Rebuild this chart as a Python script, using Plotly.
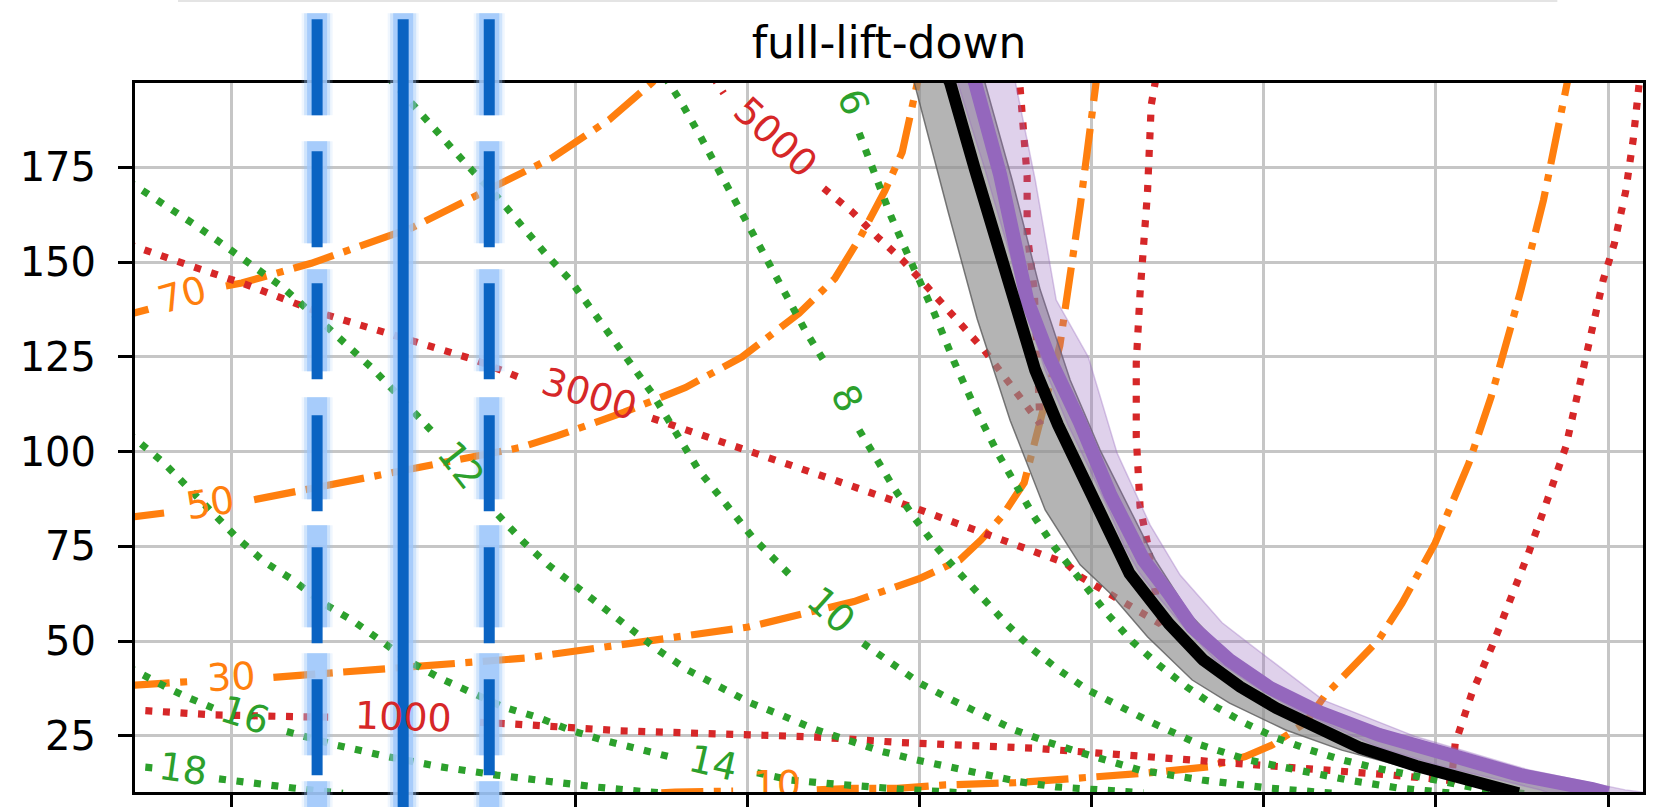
import plotly.graph_objects as go

ORANGE = "#ff7f0e"
RED = "#d62728"
GREEN = "#2ca02c"
PURPLE = "#9467bd"
FONT = "DejaVu Sans"

X_TICKS = [1, 2, 3, 4, 5, 6, 7, 8, 9]
Y_TICKS = [25, 50, 75, 100, 125, 150, 175]
X_RANGE = [0.442, 9.203]
Y_RANGE = [10.14, 197.3]

# ---- orange dash-dot contours (10, 30, 50, 70) ----
o70_x = [0.40, 0.52, None, 0.97, 1.062, 1.466, 2.047, 2.867, 3.199, 3.449, 3.47]
o70_y = [136.1, 137.6, None, 143.7, 144.5, 149.7, 159.0, 177.6, 187.7, 197.5, 199.0]
o50_x = [0.40, 0.611, None, 1.134, 1.736, 2.682, 2.898, 3.284, 3.640, 3.969, 4.300, 4.508, 4.658, 4.798,
         4.899, 4.985, 5.0]
o50_y = [82.6, 83.8, None, 87.3, 92.7, 101.1, 104.2, 110.4, 116.9, 125.0, 136.5, 145.7, 156.8, 168.8,
         179.0, 198.0, 200.0]
o30_x = [0.40, 0.762, None, 1.246, 2.711, 4.005, 4.619, 5.006, 5.234, 5.358, 5.48, 5.608, 5.691, 5.815,
         5.933, 6.020, 6.03]
o30_y = [38.2, 39.3, None, 40.4, 45.5, 53.7, 60.4, 66.6, 71.4, 76.7, 83.0, 91.8, 105.9, 128.0,
         164.7, 196.8, 199.0]
o10_x = [3.50, 3.580, 3.917, None, 4.403, 4.614, 4.870, 5.149, 5.556, 5.933, 6.311, 6.677, 6.892, 7.047,
         7.241, 7.357, 7.551, 7.667, 7.803, 7.995, 8.191, 8.321, 8.430, 8.494, 8.625, 8.712, 8.755, 8.77]
o10_y = [9.9, 10.14, 10.4, None, 10.7, 11.1, 11.1, 12.0, 12.6, 13.8, 15.1, 16.8, 19.5, 22.5,
         28.4, 35.7, 45.0, 50.3, 60.0, 75.8, 96.9, 114.5, 132.1, 142.7, 166.4, 185.8, 196.3, 199.0]

# ---- red dotted contours (1000, 3000, 5000) ----
r1000_x = [0.40, 0.895, 1.401, 1.604, None, 2.447, 2.639, 3.260, 3.882, 4.382, 4.887, 5.393, 5.660,
           6.311, 6.933, 7.339, 7.746, 8.054, 8.09, 8.112, 8.209, 8.325, 8.402, 8.538, 8.647, 8.755,
           8.863, 8.972, 9.037, 9.102, 9.146, 9.178, 9.185]
r1000_y = [31.9, 30.5, 30.0, 29.9, None, 28.5, 28.1, 26.3, 25.4, 24.7, 23.2, 22.1, 21.7,
           19.5, 17.5, 15.9, 14.6, 13.3, 13.2, 23.0, 36.2, 48.5, 57.3, 73.2, 87.2, 101.3,
           123.3, 145.3, 155.0, 168.6, 182.3, 195.9, 199.0]
r3000_x = [0.40, 0.467, 0.779, 1.069, 1.525, 1.941, 2.418, 2.687, None, 3.446, 4.027, 4.504, 5.004,
           5.375, 5.852, 5.933, 6.40, 6.324, 6.281, 6.259, 6.259, 6.281, 6.324, 6.346, 6.367, 6.375]
r3000_y = [154.8, 153.7, 148.8, 144.4, 136.5, 130.8, 124.2, 119.4, None, 108.8, 100.0, 92.5, 84.6,
           78.4, 70.5, 67.0, 54.5, 75.8, 85.5, 103.9, 123.4, 141.8, 168.2, 191.5, 196.3, 199.0]
r5000_x = [3.80, 3.862, None, 4.443, 4.608, 4.754, 4.899, 5.044, 5.375, 5.625, 5.70,
           5.666, 5.625, 5.625, 5.605, 5.585, 5.579]
r5000_y = [199.0, 194.6, None, 169.5, 163.3, 156.7, 150.6, 143.5, 126.8, 111.9, 107.3,
           142.7, 157.6, 172.6, 182.3, 196.3, 199.0]

# ---- green dotted contours (6 ... 18) ----
g6_x = [4.649, 4.754, 4.835, 4.963, 5.085, 5.201, 5.323, 5.460, 5.561, 5.666, 5.782, 5.844, 5.977, 6.096,
        6.237, 6.389, 6.552, 6.718, 6.892, 7.078, 7.270, 7.456, 7.648, 7.839, 8.037, 8.229, 8.432, 8.55]
g6_y = [184.1, 170.9, 162.0, 148.8, 136.6, 123.7, 111.5, 99.1, 90.7, 82.8, 74.9, 71.4, 63.9, 56.9,
        49.8, 43.7, 37.9, 32.7, 28.3, 24.3, 21.2, 18.6, 16.5, 14.6, 12.8, 11.2, 10.1, 9.5]
g8_x = [3.52, 3.613, 3.717, 3.810, 3.914, 4.008, 4.111, 4.205, 4.339, 4.454, None, 4.649, 4.754, 4.858,
        4.972, 5.096, 5.232, 5.375, 5.512, 5.657, 5.811, 5.977, 6.352, 6.630, 6.909, 7.200, 7.490, 7.781,
        8.025, 8.1]
g8_y = [199.0, 192.4, 184.0, 176.1, 167.7, 159.8, 151.5, 143.5, 131.7, 123.3, None, 105.7, 97.3, 89.9,
        82.4, 74.9, 67.9, 60.8, 54.2, 47.8, 42.3, 37.1, 28.4, 22.6, 18.6, 15.9, 13.3, 11.2,
        10.1, 9.8]
g10_x = [1.91, 2.148, 2.354, 2.563, 2.833, 2.970, 3.156, 3.446, 3.717, 4.027, 4.256, None, 4.672, 4.837,
         5.004, 5.189, 5.375, 5.553, 5.740, 5.916, 6.282, 6.642, 7.026, 7.270, 7.4]
g10_y = [199.0, 186.7, 176.5, 166.4, 151.9, 145.3, 133.9, 115.4, 95.1, 77.5, 67.0, None, 49.4, 43.9,
         38.8, 34.4, 30.2, 26.5, 23.4, 20.8, 15.9, 13.3, 11.2, 10.1, 9.8]
g12_x = [0.40, 0.633, 0.799, 0.965, 1.131, 1.296, 1.525, 1.680, 1.825, 1.970, 2.106, 2.168, None,
         2.551, 2.697, 2.842, 2.999, 3.167, 3.322, 3.487, 3.655, 3.830, 4.016, 4.205, 4.391, 4.578,
         4.786, 4.983, 5.189, 5.387, 5.585, 5.792, 5.991, 6.224, 6.3]
g12_y = [171.5, 164.7, 159.6, 154.3, 148.8, 143.5, 134.3, 128.1, 121.8, 114.9, 108.3, 105.3, None,
         83.3, 76.2, 70.1, 64.5, 58.9, 53.1, 47.4, 42.3, 37.9, 33.7, 30.3, 26.7, 23.9,
         20.8, 18.6, 16.7, 14.6, 12.8, 11.5, 10.7, 10.1, 9.9]
g14_x = [0.40, 0.608, 0.754, 0.893, 1.038, 1.193, 1.360, 1.523, 1.703, 1.866, 2.040, 2.214, 2.406, 2.580,
         2.778, 2.970, 3.162, 3.359, 3.551, None, 4.056, 4.254, 4.463, 4.672, 4.887, 5.178, 5.3]
g14_y = [105.0, 97.1, 90.3, 83.7, 77.1, 70.9, 66.1, 60.3, 55.5, 50.2, 44.5, 40.2, 36.3, 32.6,
         29.9, 26.5, 23.8, 21.8, 19.4, None, 15.2, 13.3, 12.4, 11.5, 10.9, 10.1, 9.8]
g16_x = [0.40, 0.452, 0.558, 0.646, 0.744, 0.895, None, 1.324, 1.614, 1.905, 2.214, 2.544, 2.825, 3.132, 3.435, 3.5]
g16_y = [43.2, 41.9, 39.2, 37.3, 35.2, 32.3, None, 26.1, 22.5, 19.5, 16.8, 14.6, 12.9, 11.4, 10.1, 9.9]
g18_x = [0.40, 0.452, 0.55, None, 0.930, 0.977, 1.070, 1.169, 1.267, 1.360, 1.459, 1.575, 1.65]
g18_y = [17.1, 16.8, 16.5, None, 13.6, 13.3, 12.8, 12.5, 11.7, 11.2, 10.7, 10.1, 9.8]

# ---- contour labels: text, x, y, angle ----
orange_labels = [("70", 0.715, 141.3, -16), ("50", 0.877, 86.4, -9), ("30", 1.0, 40.6, -3)]
red_labels = [("1000", 2.001, 30.0, 2), ("3000", 3.08, 115.2, 17), ("5000", 4.161, 183.0, 43)]
green_labels = [("6", 4.614, 192.2, 68), ("8", 4.578, 114.1, 63), ("10", 4.485, 58.2, 42),
                ("12", 2.335, 96.5, 52), ("14", 3.801, 17.8, 13), ("16", 1.081, 30.5, 18),
                ("18", 0.721, 16.2, 8)]
orange10_label = ("10", 4.171, 11.4)

# ---- measured curve (black) with band (grey) and second curve (purple) with band ----
black_x = [5.16, 5.178, 5.323, 5.468, 5.538, 5.672, 5.805, 5.933, 6.04, 6.13, 6.22, 6.32, 6.45, 6.648,
           6.863, 7.072, 7.299, 7.560, 7.886, 8.199, 8.432, 8.48]
black_y = [199.0, 197.3, 174.3, 151.9, 140.0, 121.5, 107.0, 95.1, 84.5, 75.0, 67.8, 62.0, 54.5, 45.0,
           37.9, 32.3, 27.3, 21.8, 17.0, 13.6, 10.7, 9.8]
purple_x = [5.31, 5.323, 5.468, 5.625, 5.759, 5.933, 6.108, 6.302, 6.456, 6.584, 6.799, 7.037, 7.316,
            7.671, 8.083, 8.490, 8.908, 9.0]
purple_y = [199.0, 197.3, 173.1, 140.0, 124.2, 107.6, 88.6, 71.4, 62.1, 53.7, 45.0, 37.6, 31.3,
            25.2, 19.9, 14.6, 10.9, 9.8]
grey_lo_x = [4.96, 5.166, 5.335, 5.526, 5.730, 5.933, 6.107, 6.324, 6.584, 6.801, 7.127, 7.453, 7.887, 8.321, 8.40]
grey_lo_y = [199.0, 163.3, 135.0, 108.3, 84.6, 70.1, 62.6, 51.1, 39.7, 33.6, 26.5, 21.2, 15.9, 10.7, 9.8]
grey_hi_x = [5.37, 5.538, 5.701, 5.875, 6.049, 6.224, 6.369, 6.573, 6.758, 6.973, 7.386, 7.909, 8.490, 8.838, 8.90]
grey_hi_y = [199.0, 171.7, 142.7, 118.9, 100.4, 84.6, 71.4, 56.9, 48.1, 40.5, 30.2, 21.2, 13.8, 10.7, 9.8]
lav_lo_x = [5.21, 5.381, 5.526, 5.596, 5.730, 5.863, 5.991, 6.10, 6.19, 6.28, 6.38, 6.52, 6.718, 6.950,
            7.165, 7.403, 7.676, 8.025, 8.345, 8.606, 8.66]
lav_lo_y = [199.0, 174.3, 151.9, 140.0, 121.5, 107.0, 95.1, 84.5, 75.0, 67.8, 62.0, 54.5, 45.0, 37.9,
            32.3, 27.3, 21.8, 17.0, 13.6, 10.7, 9.8]
lav_hi_x = [5.55, 5.672, 5.794, 5.980, 6.148, 6.340, 6.514, 6.758, 6.909, 7.345, 7.886, 8.536, 9.100, 9.25]
lav_hi_y = [199.0, 171.7, 140.0, 125.0, 99.6, 80.6, 67.4, 54.8, 49.5, 34.4, 24.7, 16.0, 10.7, 9.8]

# ---- vertical limit lines ----
limit_x = [1.5, 2.0, 2.5]
limit_dashed = [True, False, True]

DOT = "7px,10.6px"
DASHDOT = "42px,10.5px,7px,10.5px"
LW = 7.2

fig = go.Figure()


def add_line(x, y, color, dash, width=LW):
    fig.add_trace(go.Scatter(x=x, y=y, mode="lines", connectgaps=False, hoverinfo="skip",
                             showlegend=False, line=dict(color=color, width=width, dash=dash)))


for xs, ys in [(o70_x, o70_y), (o50_x, o50_y), (o30_x, o30_y), (o10_x, o10_y)]:
    add_line(xs, ys, ORANGE, DASHDOT)
for xs, ys in [(r1000_x, r1000_y), (r3000_x, r3000_y), (r5000_x, r5000_y)]:
    add_line(xs, ys, RED, DOT)
for xs, ys in [(g6_x, g6_y), (g8_x, g8_y), (g10_x, g10_y), (g12_x, g12_y),
               (g14_x, g14_y), (g16_x, g16_y), (g18_x, g18_y)]:
    add_line(xs, ys, GREEN, DOT)

# clipped orange label at bottom
fig.add_trace(go.Scatter(x=[orange10_label[1]], y=[orange10_label[2]], mode="text", text=[orange10_label[0]],
                         textfont=dict(color=ORANGE, size=38, family=FONT), cliponaxis=True,
                         hoverinfo="skip", showlegend=False))

# bands
fig.add_trace(go.Scatter(x=grey_lo_x + grey_hi_x[::-1], y=grey_lo_y + grey_hi_y[::-1], mode="lines",
                         fill="toself", fillcolor="rgba(140,140,140,0.65)",
                         line=dict(color="rgba(90,90,90,0.8)", width=1.5), hoverinfo="skip", showlegend=False))
fig.add_trace(go.Scatter(x=lav_lo_x + lav_hi_x[::-1], y=lav_lo_y + lav_hi_y[::-1], mode="lines",
                         fill="toself", fillcolor="rgba(148,103,189,0.3)",
                         line=dict(color="rgba(148,103,189,0.35)", width=1.5), hoverinfo="skip", showlegend=False))
add_line(purple_x, purple_y, PURPLE, "solid", width=14)
add_line(black_x, black_y, "black", "solid", width=12)

annotations = []
for labels, color in [(orange_labels, ORANGE), (red_labels, RED), (green_labels, GREEN)]:
    for txt, x, y, ang in labels:
        annotations.append(dict(x=x, y=y, xref="x", yref="y", text=txt, showarrow=False, textangle=ang,
                                xanchor="center", yanchor="middle",
                                font=dict(color=color, size=38, family=FONT)))

shapes = []
# faint line at the very top of the figure
shapes.append(dict(type="line", xref="paper", yref="paper", x0=0.0285, x1=0.9432, y0=1.1157, y1=1.1157,
                   line=dict(color="#e4e4e4", width=2), layer="above"))
for xv, dashed in zip(limit_x, limit_dashed):
    glow_dash = "102px,26px" if dashed else "solid"
    core_dash = "96px,36px" if dashed else "solid"
    shapes.append(dict(type="line", xref="x", yref="paper", x0=xv, x1=xv, y0=1.0983, y1=-0.06,
                       line=dict(color="rgba(150,195,250,0.15)", width=31, dash=glow_dash), layer="above"))
    shapes.append(dict(type="line", xref="x", yref="paper", x0=xv, x1=xv, y0=1.0983, y1=-0.06,
                       line=dict(color="rgba(150,195,250,0.35)", width=26, dash=glow_dash), layer="above"))
    shapes.append(dict(type="line", xref="x", yref="paper", x0=xv, x1=xv, y0=1.0983, y1=-0.06,
                       line=dict(color="rgba(160,200,250,0.85)", width=20, dash=glow_dash), layer="above"))
    shapes.append(dict(type="line", xref="x", yref="paper", x0=xv, x1=xv, y0=1.0898, y1=-0.06,
                       line=dict(color="#0a63c2", width=11, dash=core_dash), layer="above"))

axis_common = dict(showline=True, linecolor="black", linewidth=3, mirror=True, ticks="outside",
                   ticklen=14, tickwidth=3, tickcolor="black", showgrid=True, gridcolor="#c6c6c6",
                   gridwidth=2.5, zeroline=False, automargin=False)

fig.update_layout(
    width=1665, height=807,
    margin=dict(l=135, r=22, t=83, b=15, autoexpand=False),
    plot_bgcolor="white", paper_bgcolor="white", showlegend=False,
    title=dict(text="full-lift-down", x=0.5, xref="paper", xanchor="center",
               y=1 - 43 / 807, yref="container", yanchor="middle",
               font=dict(family=FONT, size=44, color="black")),
    xaxis=dict(range=X_RANGE, tickvals=X_TICKS, showticklabels=False, **axis_common),
    yaxis=dict(range=Y_RANGE, tickvals=Y_TICKS, ticktext=[str(v) for v in Y_TICKS],
               tickfont=dict(family=FONT, size=40, color="black"), ticklabelstandoff=14, **axis_common),
    annotations=annotations,
    shapes=shapes,
)

fig.write_html("out.html")
